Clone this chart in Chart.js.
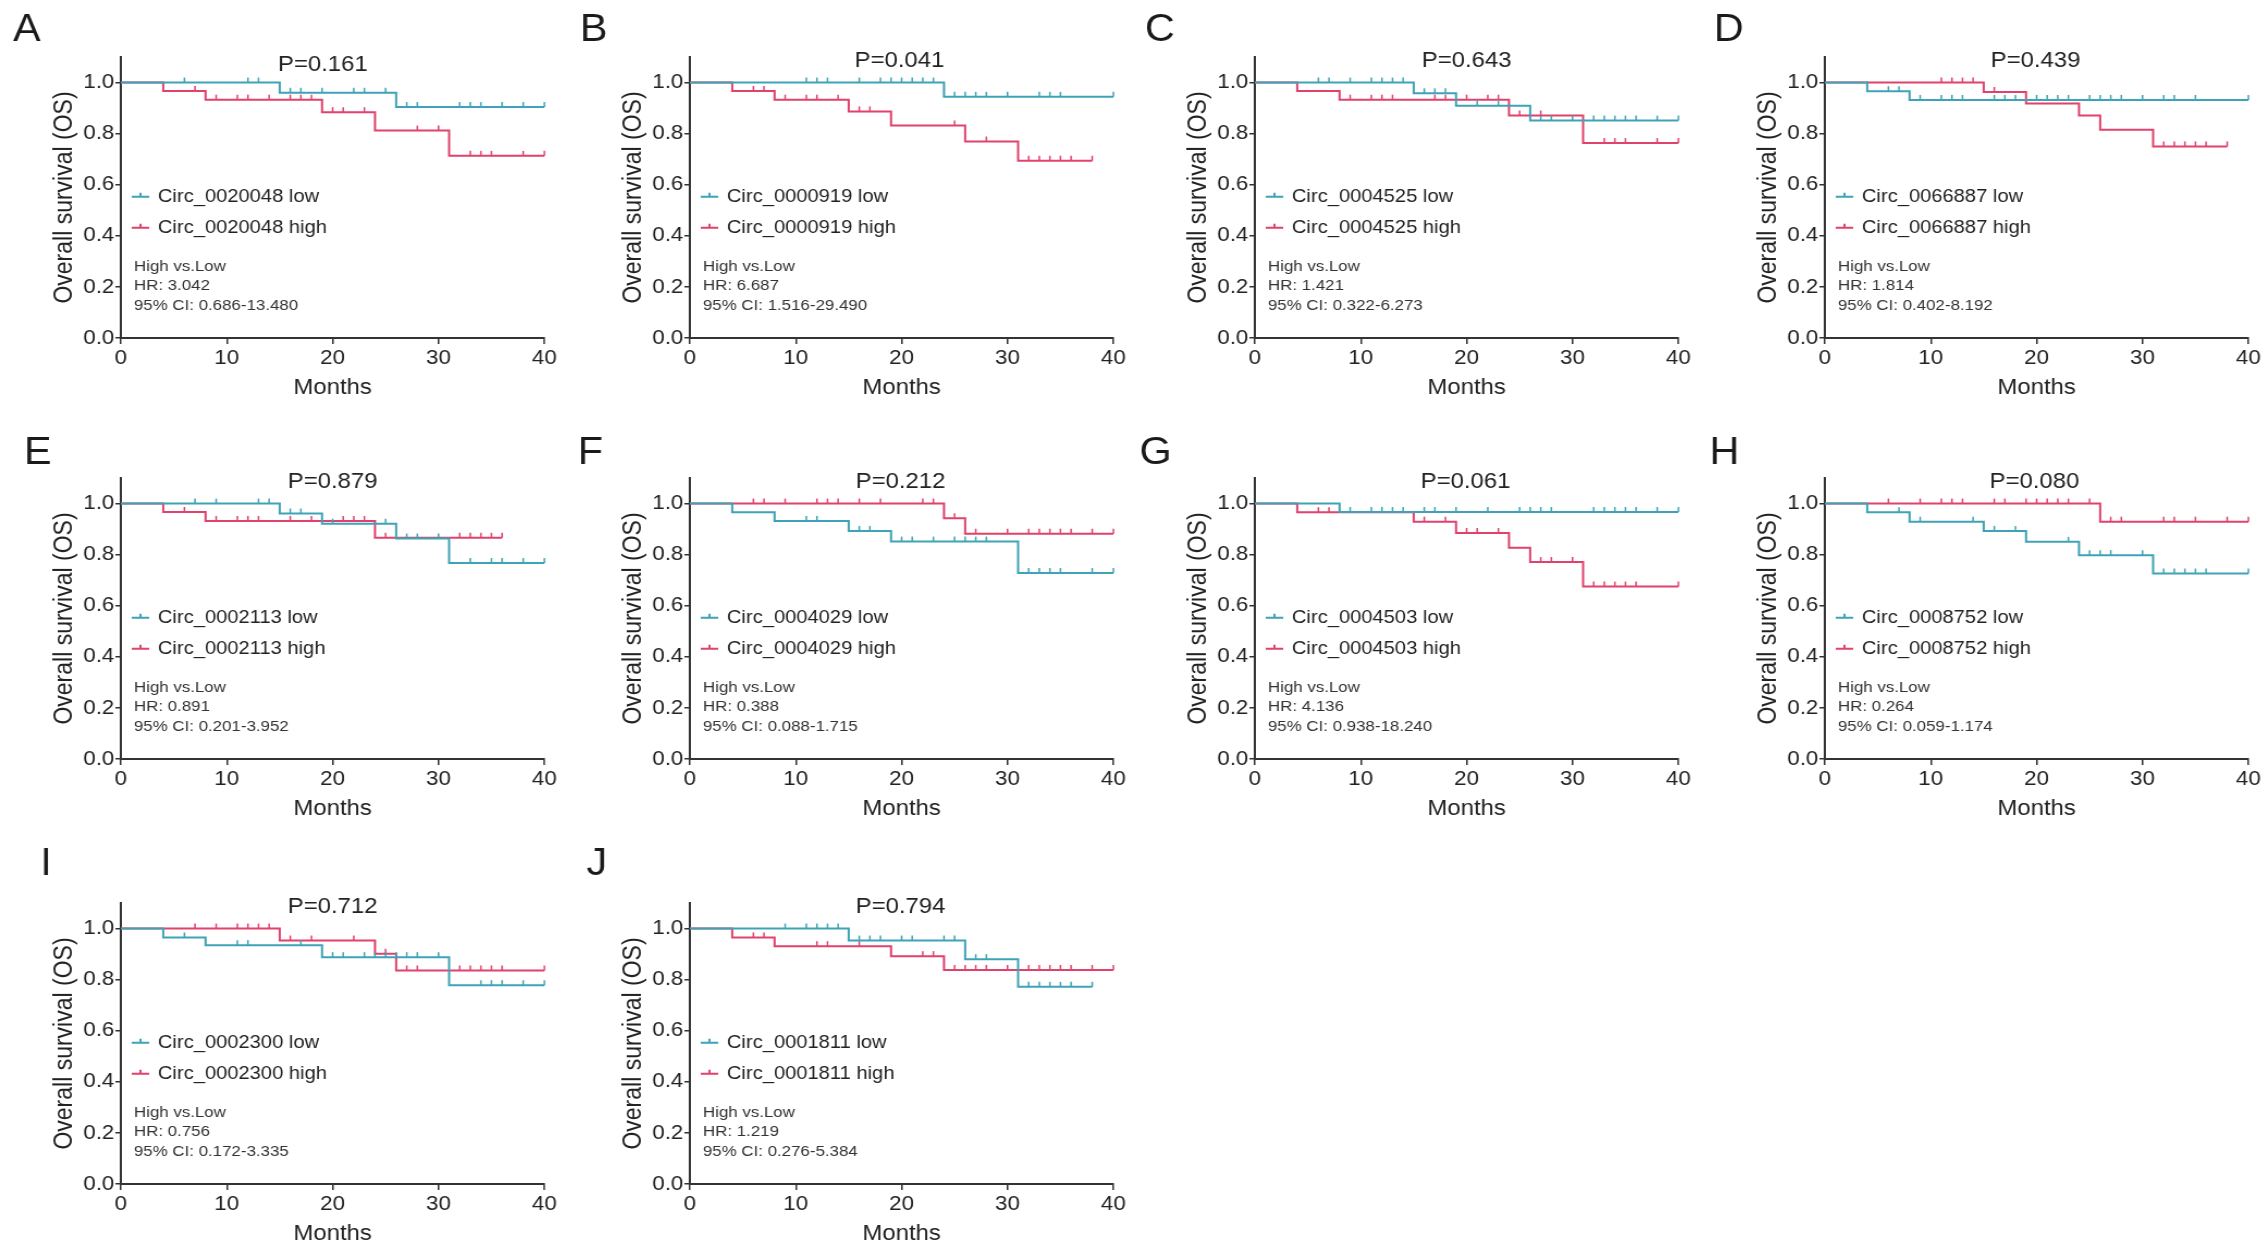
<!DOCTYPE html>
<html><head><meta charset="utf-8">
<script src="https://cdn.jsdelivr.net/npm/chart.js@4.4.1/dist/chart.umd.min.js"></script>
<style>
html,body{margin:0;padding:0;background:#fff;width:2268px;height:1254px;overflow:hidden;}
canvas{position:absolute;}
</style></head><body>
<script>
// ---------- DATA ----------
const panelLetters = ['A','B','C','D','E','F','G','H','I','J'];
const genes = ['Circ_0020048','Circ_0000919','Circ_0004525','Circ_0066887','Circ_0002113','Circ_0004029','Circ_0004503','Circ_0008752','Circ_0002300','Circ_0001811'];
const pValues = ['0.161','0.041','0.643','0.439','0.879','0.212','0.061','0.080','0.712','0.794'];
const hrValues = ['3.042','6.687','1.421','1.814','0.891','0.388','4.136','0.264','0.756','1.219'];
const ciValues = ['0.686-13.480','1.516-29.490','0.322-6.273','0.402-8.192','0.201-3.952','0.088-1.715','0.938-18.240','0.059-1.174','0.172-3.335','0.276-5.384'];
const xTicks = [0,10,20,30,40];
const yTicks = [0,0.2,0.4,0.6,0.8,1.0];

// low-expression group: event months, survival after each event, censor months
const lowMonths = [
  [0,15,26,40],
  [0,24,40],
  [0,15,19,26,40],
  [0,4,8,40],
  [0,15,19,26,31,40],
  [0,4,8,15,19,31,40],
  [0,8,40],
  [0,4,8,15,19,24,31,40],
  [0,4,8,19,31,40],
  [0,15,26,31,38]
];
const lowSurv = [
  [1,0.96,0.904,0.904],
  [1,0.944,0.944],
  [1,0.958,0.909,0.851,0.851],
  [1,0.966,0.932,0.932],
  [1,0.961,0.921,0.863,0.767,0.767],
  [1,0.966,0.932,0.893,0.851,0.728,0.728],
  [1,0.967,0.967],
  [1,0.966,0.929,0.893,0.85,0.798,0.726,0.726],
  [1,0.965,0.935,0.888,0.778,0.778],
  [1,0.953,0.88,0.772,0.772]
];
const lowCensor = [
  [6,12,13,16,17,19,22,23,25,27,28,32,33,34,36,38,40],
  [11,12,13,16,18,19,20,21,22,23,25,26,27,28,30,33,34,35,40],
  [6,7,9,11,12,13,14,16,17,18,21,23,27,28,30,32,33,34,35,36,38,40],
  [6,7,9,11,12,13,16,17,18,20,21,22,23,25,26,27,28,30,32,33,35,40],
  [7,9,13,14,16,17,20,25,27,28,30,33,35,36,38,40],
  [11,12,16,17,20,21,23,25,26,27,28,32,33,34,35,38,40],
  [9,11,12,13,14,16,17,19,22,25,26,27,28,32,33,34,35,36,38,40],
  [7,9,14,16,18,23,25,26,27,30,32,33,34,35,36,40],
  [6,11,12,17,20,21,23,24,25,26,27,28,30,34,35,36,38,40],
  [9,11,12,13,14,16,17,18,20,21,24,25,27,28,32,33,34,35,36,38]
];
// high-expression group
const highMonths = [
  [0,4,8,19,24,31,40],
  [0,4,8,15,19,26,31,38],
  [0,4,8,24,31,40],
  [0,15,19,24,26,31,38],
  [0,4,8,24,36],
  [0,24,26,40],
  [0,4,15,19,24,26,31,40],
  [0,26,40],
  [0,15,24,26,40],
  [0,4,8,19,24,40]
];
const highSurv = [
  [1,0.967,0.933,0.884,0.812,0.713,0.713],
  [1,0.967,0.933,0.887,0.832,0.769,0.694,0.694],
  [1,0.967,0.933,0.871,0.763,0.763],
  [1,0.963,0.918,0.871,0.815,0.75,0.75],
  [1,0.967,0.932,0.866,0.866],
  [1,0.942,0.882,0.882],
  [1,0.966,0.929,0.885,0.827,0.771,0.675,0.675],
  [1,0.929,0.929],
  [1,0.953,0.901,0.836,0.836],
  [1,0.965,0.931,0.892,0.838,0.838]
];
const highCensor = [
  [7,9,11,12,14,16,17,18,20,21,23,28,30,33,34,35,38,40],
  [6,7,9,11,12,14,16,17,25,28,32,33,34,35,36,38],
  [9,11,12,13,17,18,20,22,23,25,27,33,34,35,38,40],
  [11,12,13,14,16,32,33,34,35,36,38],
  [6,9,11,12,13,16,18,21,22,23,25,32,33,34,35,36],
  [6,7,9,12,13,14,16,18,22,23,25,27,30,32,33,34,35,36,38,40],
  [6,7,16,18,20,21,23,27,28,30,32,33,34,35,36,40],
  [6,9,11,12,13,16,17,19,20,21,22,23,25,27,28,32,33,35,38,40],
  [7,9,11,12,13,14,16,18,22,25,27,28,32,33,34,35,36,40],
  [6,7,12,13,16,22,23,25,26,27,28,30,32,33,34,35,36,38,40]
];

// ---------- STYLE / LAYOUT ----------
const FONT = '"Liberation Sans", Arial, Helvetica, sans-serif';
const LOW_COLOR = '#3ea3b6';
const HIGH_COLOR = '#e0426d';
const colLeft = [0, 569, 1134, 1703.5];
const rowTop = [0, 421, 846];
const letterPos = [[12,41],[10,41],[10,41],[9,41],[22,43],[8,43],[5,43],[5,43],[37,29],[16,29]];
const titleShift = [[-9,8],[-2,4],[0,4],[-1,4],[0,4],[-1,4],[-1,4],[-2,4],[0,4],[-1,4]];
const CANVAS_W = 518, CANVAS_H = 420, CSS_W = 564; // source figure is horizontally stretched

function stepAt(T, S, t) {
  let v = S[0];
  for (let i = 0; i < T.length; i++) if (T[i] <= t) v = S[i];
  return v;
}

const overlay = {
  id: 'overlay',
  afterDraw(chart, args, o) {
    const ctx = chart.ctx, a = chart.chartArea;
    ctx.save();
    ctx.fillStyle = '#1a1a1a';
    ctx.font = `38px ${FONT}`; ctx.textAlign = 'left'; ctx.textBaseline = 'alphabetic';
    ctx.fillText(o.letter, o.lx, o.ly);
    ctx.font = `22px ${FONT}`; ctx.textAlign = 'center'; ctx.textBaseline = 'middle';
    ctx.fillStyle = '#222';
    ctx.fillText('P=' + o.p, (a.left + a.right) / 2 + o.tdx, a.top + o.tdy);
    const items = [[LOW_COLOR, o.gene + ' low', 141.3], [HIGH_COLOR, o.gene + ' high', 110.3]];
    items.forEach(([c, t, dy]) => {
      const y = a.bottom - dy;
      ctx.strokeStyle = c; ctx.lineWidth = 2;
      ctx.beginPath();
      ctx.moveTo(a.left + 10, y); ctx.lineTo(a.left + 26, y);
      ctx.moveTo(a.left + 18, y); ctx.lineTo(a.left + 18, y - 4);
      ctx.stroke();
      ctx.fillStyle = '#222'; ctx.font = `18.5px ${FONT}`; ctx.textAlign = 'left'; ctx.textBaseline = 'middle';
      ctx.fillText(t, a.left + 34, y);
    });
    ctx.font = `15.5px ${FONT}`; ctx.fillStyle = '#333';
    ctx.fillText('High vs.Low', a.left + 12, a.bottom - 71.3);
    ctx.fillText('HR: ' + o.hr, a.left + 12, a.bottom - 52);
    ctx.fillText('95% CI: ' + o.ci, a.left + 12, a.bottom - 32);
    ctx.restore();
  }
};

function seriesSets(T, S, C, color) {
  return [
    {
      data: T.map((t, i) => ({x: t, y: S[i]})),
      stepped: true, borderColor: color, borderWidth: 2, pointRadius: 0, fill: false, clip: false
    },
    {
      data: C.map(t => ({x: t, y: stepAt(T, S, t)})),
      showLine: false, pointStyle: 'dash', pointRotation: 270, pointRadius: 5,
      pointBorderWidth: 1.5, pointBorderColor: color, pointBackgroundColor: color, clip: false
    }
  ];
}

for (let p = 0; p < 10; p++) {
  const col = p < 8 ? p % 4 : p - 8;
  const row = Math.floor(p / 4);
  const cv = document.createElement('canvas');
  cv.width = CANVAS_W; cv.height = CANVAS_H;
  cv.style.left = colLeft[col] + 'px';
  cv.style.top = rowTop[row] + 'px';
  cv.style.width = CSS_W + 'px'; cv.style.height = CANVAS_H + 'px';
  document.body.appendChild(cv);
  const datasets = [
    ...seriesSets(lowMonths[p], lowSurv[p], lowCensor[p], LOW_COLOR),
    ...seriesSets(highMonths[p], highSurv[p], highCensor[p], HIGH_COLOR)
  ];
  const tickFont = {family: FONT, size: 20.5};
  new Chart(cv, {
    type: 'line',
    data: {datasets},
    options: {
      responsive: false, animation: false, devicePixelRatio: 1,
      layout: {padding: {left: 35, top: 57, right: 18, bottom: 0}},
      plugins: {
        legend: {display: false}, tooltip: {enabled: false},
        overlay: {letter: panelLetters[p], lx: letterPos[p][0], ly: letterPos[p][1],
                  tdx: titleShift[p][0], tdy: titleShift[p][1],
                  p: pValues[p], gene: genes[p], hr: hrValues[p], ci: ciValues[p]}
      },
      scales: {
        x: {
          type: 'linear', min: 0, max: 40,
          afterBuildTicks: s => { s.ticks = xTicks.map(v => ({value: v})); },
          afterFit: s => { s.height = 82; },
          grid: {drawOnChartArea: false, drawTicks: true, tickLength: 6, color: '#333', lineWidth: 1.5},
          border: {display: true, color: '#333', width: 2},
          ticks: {font: tickFont, color: '#222', padding: 2, maxRotation: 0, autoSkip: false},
          title: {display: true, text: 'Months', font: {family: FONT, size: 22}, color: '#222', padding: {top: 0, bottom: 18.8}}
        },
        y: {
          type: 'linear', min: 0, max: 1.1,
          afterBuildTicks: s => { s.ticks = yTicks.map(v => ({value: v})); },
          afterFit: s => { s.width = 76; },
          grid: {drawOnChartArea: false, drawTicks: true, tickLength: 5, color: '#333', lineWidth: 1.5},
          border: {display: true, color: '#333', width: 2},
          ticks: {font: tickFont, color: '#222', padding: 1, callback: v => Number(v).toFixed(1)},
          title: {display: true, text: 'Overall survival (OS)', font: {family: FONT, size: 23}, color: '#222', padding: {top: 11.2, bottom: 0}}
        }
      }
    },
    plugins: [overlay]
  });
}
</script>
</body></html>
